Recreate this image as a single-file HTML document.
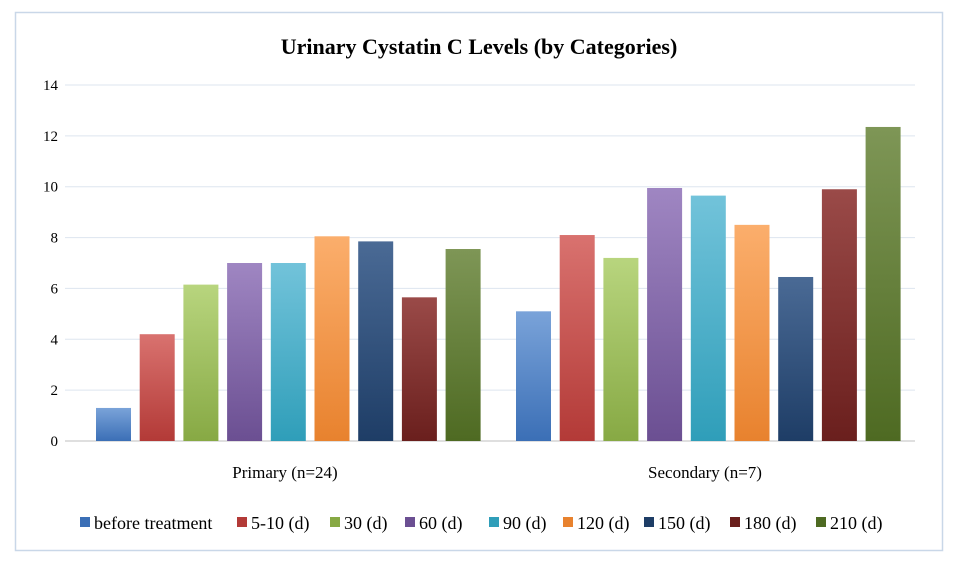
<!DOCTYPE html>
<html><head><meta charset="utf-8">
<style>
html,body{margin:0;padding:0;background:#fff;}
svg{display:block;font-family:"Liberation Serif",serif;}
</style></head>
<body>
<svg id="chart" width="956" height="571" viewBox="0 0 956 571">
<defs id="defs"></defs>
<rect x="15.5" y="12.5" width="927" height="538" fill="#fff" stroke="#c9d7e8" stroke-width="1.5"/>
<text x="479" y="54" text-anchor="middle" font-size="22" font-weight="bold" fill="#000">Urinary Cystatin C Levels (by Categories)</text>
<g id="grid"></g><g id="bars"></g><g id="axis"></g><g id="legend"></g>
</svg>
<script>
const categories = ["Primary (n=24)", "Secondary (n=7)"];
const seriesNames = ["before treatment","5-10 (d)","30 (d)","60 (d)","90 (d)","120 (d)","150 (d)","180 (d)","210 (d)"];
const primaryValues = [1.3, 4.2, 6.15, 7.0, 7.0, 8.05, 7.85, 5.65, 7.55];
const secondaryValues = [5.1, 8.1, 7.2, 9.95, 9.65, 8.5, 6.45, 9.9, 12.35];
const yTicks = [0,2,4,6,8,10,12,14];
const colors = [["#7aa3d9","#3b6fb6"],["#d9726f","#b33a37"],["#b8d57e","#87a944"],["#9f86c2","#6b4f92"],["#72c3da","#2f9eb9"],["#fbae6c","#e8822e"],["#4a6a95","#1e3d66"],["#9a4a48","#6a1f1d"],["#7e9656","#4e6a22"]];
const NS="http://www.w3.org/2000/svg";
const gridL=65, plotL=75, plotR=915, y0=441, yTop=85, yMax=14;
const y=v=>y0-(v/yMax)*(y0-yTop);
const catW=(plotR-plotL)/categories.length;
const barW=35, step=43.7;
const x=(c,s)=>plotL+c*catW+21+s*step;
function mk(tag,attrs,parent){const e=document.createElementNS(NS,tag);for(const k in attrs)e.setAttribute(k,attrs[k]);parent.appendChild(e);return e;}
const defs=document.getElementById('defs');
colors.forEach((c,i)=>{const g=mk('linearGradient',{id:'g'+i,x1:0,y1:0,x2:0,y2:1},defs);mk('stop',{offset:0,'stop-color':c[0]},g);mk('stop',{offset:1,'stop-color':c[1]},g);});
const grid=document.getElementById('grid'), axis=document.getElementById('axis');
yTicks.forEach(t=>{
 const l=mk('line',{x1:gridL,x2:plotR,y1:y(t),y2:y(t),stroke:t===0?'#bfbfbf':'#dde5ef','stroke-width':1},grid);
 
 
 const tx=mk('text',{x:58,y:y(t)+5,'text-anchor':'end','font-size':15,fill:'#000'},axis);
 tx.textContent=t;
 
 
});
categories.forEach((c,ci)=>{
 const tx=mk('text',{x:plotL+ci*catW+catW/2,y:478,'text-anchor':'middle','font-size':17,fill:'#000'},axis);
 tx.textContent=c;
 
 
});
const bars=document.getElementById('bars');
[primaryValues,secondaryValues].forEach((vals,ci)=>{
 vals.forEach((v,si)=>{
  const r=mk('rect',{x:x(ci,si),y:y(v),width:barW,height:y0-y(v),fill:'url(#g'+si+')'},bars);
  
  
 });
});
const legend=document.getElementById('legend');
const legX=[80,237,330,405,489,563,644,730,816];
seriesNames.forEach((n,i)=>{
 const g=mk('g',{},legend);
 
 
 mk('rect',{x:legX[i],y:517,width:10,height:10,fill:colors[i][1]},g);
 const t=mk('text',{x:legX[i]+14,y:529,'font-size':18,fill:'#000'},g);
 t.textContent=n;
});
</script>
</body></html>
